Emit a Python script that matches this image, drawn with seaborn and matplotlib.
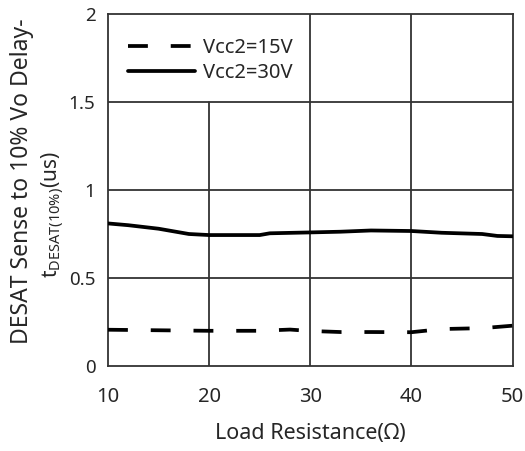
import matplotlib
matplotlib.use("Agg")
import matplotlib.pyplot as plt
import seaborn as sns
import numpy as np

# data
resistance = [10, 12, 15, 18, 20, 25, 26, 30, 33, 36, 40, 43, 47, 48.5, 50]
vcc30 = [0.81, 0.80, 0.78, 0.75, 0.744, 0.744, 0.754, 0.759, 0.763, 0.77, 0.767, 0.757, 0.75, 0.739, 0.737]
res15 = [10, 15, 20, 25, 28, 30, 33, 36, 40, 43, 47, 50]
vcc15 = [0.206, 0.203, 0.20, 0.20, 0.207, 0.199, 0.193, 0.193, 0.192, 0.21, 0.215, 0.229]
x_ticks = [10, 20, 30, 40, 50]
y_ticks = [0, 0.5, 1, 1.5, 2]
y_tick_labels = ["0", "0.5", "1", "1.5", "2"]
labels = ["Vcc2=15V", "Vcc2=30V"]

sns.set_style("white")
plt.rcParams['font.family'] = ['Noto Sans', 'DejaVu Sans']
plt.rcParams['mathtext.fontset'] = 'custom'
plt.rcParams['mathtext.rm'] = 'Noto Sans'

fig = plt.figure(figsize=(5.25, 4.51), dpi=100)
ax = fig.add_axes([108/525, 1 - 366/451, (512.5-108)/525, (366-14)/451])

# grid
gc = '#333333'
for xv in [30, 40]:
    ax.axvline(xv, color=gc, lw=1.3, zorder=1)
ax.axvline(20, ymax=0.75, color=gc, lw=1.3, zorder=1)
for yv in [0.5, 1, 1.5]:
    ax.axhline(yv, color=gc, lw=1.3, zorder=1)

lw = 2.7
dash = [5.3, 6.1]
sns.lineplot(x=res15, y=vcc15, ax=ax, color='black', lw=lw, label=labels[0], zorder=3)
sns.lineplot(x=resistance, y=vcc30, ax=ax, color='black', lw=lw, label=labels[1], zorder=3)
ax.lines[-2].set_dashes(dash)

ax.set_xlim(10, 50)
ax.set_ylim(0, 2)
ax.set_xticks(x_ticks)
ax.set_xticklabels([str(v) for v in x_ticks])
ax.set_yticks(y_ticks)
ax.set_yticklabels(y_tick_labels)
ax.tick_params(axis='x', length=0, labelsize=14.5, pad=15)
ax.tick_params(axis='y', length=0, labelsize=13.5, pad=9)
for s in ax.spines.values():
    s.set_color(gc)
    s.set_linewidth(1.3)

leg = ax.legend(loc='upper left', bbox_to_anchor=(0.035, 0.948), frameon=False,
                fontsize=14.5, handlelength=3.3, handletextpad=0.4, labelspacing=0.25,
                borderaxespad=0, borderpad=0.3)
for h in leg.get_lines():
    h.set_linewidth(lw)
leg.get_lines()[0].set_dashes(dash)

ax.set_xlabel("Load Resistance(Ω)", fontsize=15.5, labelpad=12)
fig.text(22/525, 1 - 181/451, "DESAT Sense to 10% Vo Delay-", rotation=90,
         fontsize=16.5, ha='center', va='center')
fig.text(53/525, 1 - 215/451, r"t$_{\mathrm{DESAT(10\%)}}$(us)", rotation=90,
         fontsize=15, ha='center', va='center')

fig.savefig("out.png", dpi=100)
